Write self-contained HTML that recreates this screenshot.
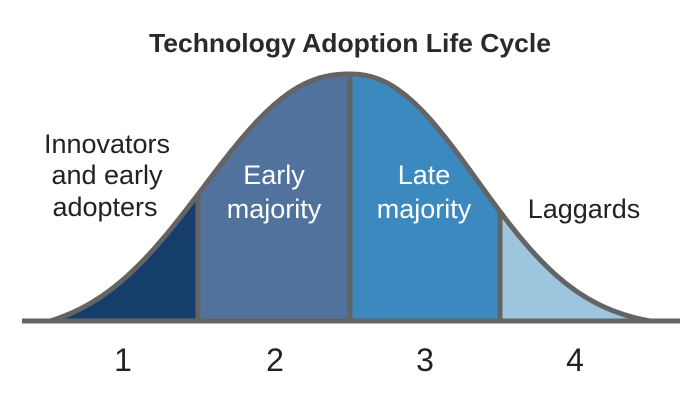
<!DOCTYPE html>
<html><head><meta charset="utf-8"><style>
html,body{margin:0;padding:0;background:#fff;width:700px;height:400px;overflow:hidden}
svg{display:block;font-family:"Liberation Sans",sans-serif}
</style></head><body>
<svg id="s" width="700" height="400" viewBox="0 0 700 400">
<defs><clipPath id="c"><path id="cp" d=""/></clipPath></defs>
<g clip-path="url(#c)">
<rect x="0" y="0" width="198" height="321" fill="#163e6b"/>
<rect x="198" y="0" width="152" height="321" fill="#50729d"/>
<rect x="350" y="0" width="150" height="321" fill="#3b89bf"/>
<rect x="500" y="0" width="200" height="321" fill="#9dc6de"/>
<line x1="198" y1="60" x2="198" y2="321" stroke="#646464" stroke-width="5"/>
<line x1="350" y1="60" x2="350" y2="321" stroke="#646464" stroke-width="5"/>
<line x1="500" y1="60" x2="500" y2="321" stroke="#646464" stroke-width="5"/>
</g>
<path id="cl" d="" fill="none" stroke="#646464" stroke-width="5"/>
<line x1="22" y1="321" x2="680" y2="321" stroke="#646464" stroke-width="5"/>
<text x="350" y="52" text-anchor="middle" font-size="26" font-weight="bold" fill="#2a2a2a" textLength="402" lengthAdjust="spacingAndGlyphs">Technology Adoption Life Cycle</text>
<g font-size="27" fill="#222" text-anchor="middle">
<text x="107" y="153">Innovators</text>
<text x="107" y="184">and early</text>
<text x="105" y="216">adopters</text>
<text x="584" y="218">Laggards</text>
</g>
<g font-size="27" fill="#fff" text-anchor="middle">
<text x="274" y="184">Early</text>
<text x="274" y="218">majority</text>
<text x="424" y="184">Late</text>
<text x="424" y="218">majority</text>
</g>
<g font-size="32" fill="#222" text-anchor="middle">
<text x="123" y="371">1</text>
<text x="275" y="371">2</text>
<text x="425" y="371">3</text>
<text x="575" y="371">4</text>
</g>
</svg>
<script>
function g(d){ if(d<0) return Math.exp(-0.62*Math.pow(-d/152,2.3)); return Math.exp(-0.78*Math.pow(d/150,2.2)); }
var fl=g(-300), fr=g(300);
var pts=[];
for(var x=22;x<=680;x+=2){
 var d=x-350,f=g(d),f0=d<0?fl:fr;
 f=Math.max(0,(f-f0)/(1-f0));
 var y=321-247*f;
 pts.push(x+","+y.toFixed(1));
}
var line="M"+pts.join(" L");
document.getElementById("cl").setAttribute("d",line);
document.getElementById("cp").setAttribute("d",line+" L680,321 L22,321 Z");
</script>
</body></html>
